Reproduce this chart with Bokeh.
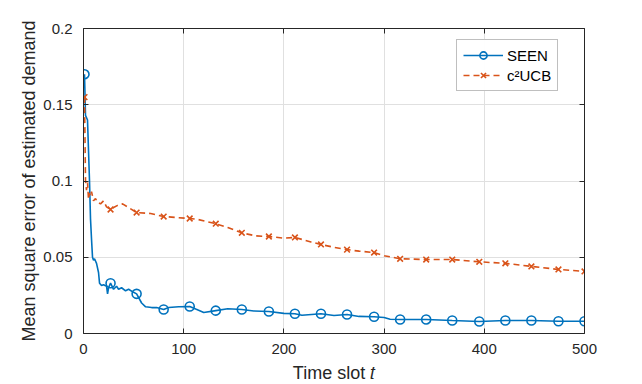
import numpy as np
from bokeh.plotting import figure
from bokeh.models import LinearAxis, FixedTicker, Legend, LegendItem, Range1d
from bokeh.embed import file_html
from bokeh.resources import INLINE

# ---- data ----
marker_t = [1, 27, 53, 80, 106, 132, 158, 185, 211, 237, 263, 290, 316, 342, 368, 395, 421, 447, 474, 500]

seen_t = [1, 2, 4, 6, 7, 8, 9, 10, 11, 13, 15, 16, 18, 20, 23, 24, 25, 27, 30, 33, 35, 38, 42, 45, 50,
          53, 58, 62, 68, 73, 80, 85, 95, 106, 112, 120, 132, 144, 158, 170, 185, 200, 211, 218, 237,
          250, 263, 275, 290, 300, 306, 316, 342, 368, 395, 421, 447, 474, 500]
seen_y = [0.170, 0.143, 0.140, 0.100, 0.075, 0.062, 0.050, 0.048, 0.049, 0.046, 0.040, 0.033, 0.0315,
          0.032, 0.031, 0.026, 0.030, 0.033, 0.029, 0.031, 0.029, 0.030, 0.028, 0.029, 0.027,
          0.026, 0.020, 0.0175, 0.017, 0.017, 0.0157, 0.017, 0.0175, 0.0177, 0.016, 0.0138, 0.015,
          0.0162, 0.0157, 0.0148, 0.0144, 0.0132, 0.013, 0.012, 0.013,
          0.0118, 0.0125, 0.0112, 0.011, 0.0105, 0.0093, 0.0092, 0.0092, 0.0085, 0.0079, 0.0085,
          0.0085, 0.008, 0.008]

ucb_t = [1, 2, 3, 4, 5, 6, 7, 8, 10, 12, 14, 17, 20, 23, 27, 31, 34, 39, 45, 53, 67, 80, 94, 106,
         114, 132, 144, 158, 172, 185, 200, 211, 227, 237, 250, 263, 275, 290, 300, 316, 342, 368,
         395, 421, 447, 474, 500]
ucb_y = [0.155, 0.100, 0.094, 0.099, 0.088, 0.092, 0.090, 0.093, 0.087, 0.0885, 0.086, 0.085, 0.087,
         0.083, 0.0813, 0.083, 0.084, 0.085, 0.0826, 0.0793, 0.0787, 0.0767, 0.076, 0.0754,
         0.0748, 0.072, 0.0695, 0.066, 0.064, 0.0636, 0.0625, 0.063, 0.060, 0.0584, 0.0565, 0.055,
         0.054, 0.0531, 0.051, 0.049, 0.0485, 0.0485, 0.047, 0.046, 0.044, 0.042, 0.0407]

x_ticks = [0, 100, 200, 300, 400, 500]
y_ticks = [0, 0.05, 0.1, 0.15, 0.2]
y_tick_labels = ["0", "0.05", "0.1", "0.15", "0.2"]

series_names = ["SEEN", "c²UCB"]
blue = "#0072BD"
orange = "#D95319"
axis_col = "#262626"
FONT = "Liberation Sans"

p = figure(output_backend="svg", toolbar_location=None,
           x_range=Range1d(0, 500), y_range=Range1d(0, 0.2),
           frame_width=501, frame_height=305,
           min_border_left=83, min_border_right=42, min_border_top=28, min_border_bottom=51,
           background_fill_color="white", border_fill_color="white")
p.outline_line_color = None

seen_t_a = np.array(seen_t); seen_y_a = np.array(seen_y)
ucb_t_a = np.array(ucb_t); ucb_y_a = np.array(ucb_y)
m1 = np.isin(seen_t_a, marker_t)
m2 = np.isin(ucb_t_a, marker_t)

l1 = p.line(seen_t_a, seen_y_a, line_color=blue, line_width=1.6)
s1 = p.scatter(seen_t_a[m1], seen_y_a[m1], marker="circle", size=9, fill_color=None,
               line_color=blue, line_width=1.6)
l2 = p.line(ucb_t_a, ucb_y_a, line_color=orange, line_width=1.6, line_dash="6 4")
s2 = p.scatter(ucb_t_a[m2], ucb_y_a[m2], marker="x", size=8, line_color=orange, line_width=1.6)

# axes styling
for ax in [p.xaxis[0], p.yaxis[0]]:
    ax.axis_line_color = axis_col
    ax.major_tick_line_color = axis_col
    ax.major_tick_in = 5
    ax.major_tick_out = 0
    ax.minor_tick_line_color = None
    ax.major_label_text_font = FONT
    ax.major_label_text_font_size = "15px"
    ax.major_label_text_color = axis_col
    ax.axis_label_text_font = FONT
    ax.axis_label_text_font_size = "18px"
    ax.axis_label_text_font_style = "normal"
    ax.axis_label_text_color = axis_col

p.xaxis[0].ticker = FixedTicker(ticks=x_ticks)
p.yaxis[0].ticker = FixedTicker(ticks=y_ticks)
p.yaxis[0].major_label_overrides = {t: l for t, l in zip(y_ticks, y_tick_labels)}
p.xaxis[0].axis_label = "Time slot 𝑡"
p.yaxis[0].axis_label = "Mean square error of estimated demand"
p.xaxis[0].major_label_standoff = 10
p.yaxis[0].major_label_standoff = 11
p.xaxis[0].axis_label_standoff = 6
p.yaxis[0].axis_label_standoff = 1

top = LinearAxis(ticker=FixedTicker(ticks=x_ticks))
right = LinearAxis(ticker=FixedTicker(ticks=y_ticks))
top.major_label_overrides = {t: "" for t in x_ticks}
right.major_label_overrides = {t: "" for t in y_ticks}
for ax in [top, right]:
    ax.axis_line_color = axis_col
    ax.major_tick_line_color = axis_col
    ax.major_tick_in = 5
    ax.major_tick_out = 0
    ax.minor_tick_line_color = None
    ax.major_label_standoff = 0
p.add_layout(top, "above")
p.add_layout(right, "right")

p.xgrid.grid_line_color = "#e0e0e0"
p.ygrid.grid_line_color = "#e0e0e0"
p.xgrid.ticker = FixedTicker(ticks=x_ticks)
p.ygrid.ticker = FixedTicker(ticks=y_ticks)

legend = Legend(items=[LegendItem(label=series_names[0], renderers=[l1, s1]),
                       LegendItem(label=series_names[1], renderers=[l2, s2])],
                location=(373, 242))
legend.label_text_font = FONT
legend.label_text_font_size = "15px"
legend.label_text_color = "black"
legend.border_line_color = "#808080"
legend.border_line_width = 1
legend.background_fill_color = "white"
legend.glyph_width = 40
legend.glyph_height = 18
legend.label_standoff = 4
legend.padding = 6
legend.spacing = 2
legend.margin = 0
p.add_layout(legend)

open("out.html", "w").write(file_html(p, INLINE))
